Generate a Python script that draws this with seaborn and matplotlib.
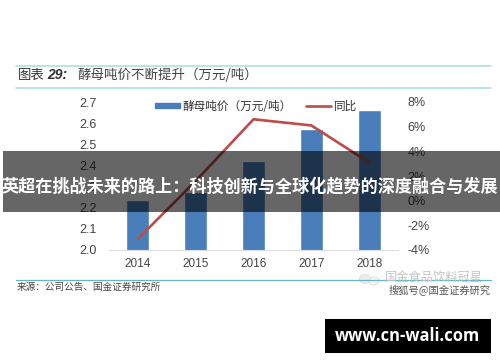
import matplotlib
matplotlib.use("Agg")
import matplotlib.pyplot as plt
from matplotlib.patches import Rectangle, Ellipse
from matplotlib.lines import Line2D
from matplotlib.patches import Patch
import seaborn as sns
import pandas as pd

years = ["2014", "2015", "2016", "2017", "2018"]
price = [2.237, 2.275, 2.42, 2.57, 2.66]
yoy = [-3.1, 1.6, 6.6, 6.1, 3.1]
left_ticks = [2.0, 2.1, 2.2, 2.3, 2.4, 2.5, 2.6, 2.7]
right_ticks = [-4, -2, 0, 2, 4, 6, 8]

W, H = 500, 362
CJK = ["Noto Sans CJK SC", "DejaVu Sans"]

sns.set_theme(style="white")
plt.rcParams["font.family"] = CJK

df = pd.DataFrame({"year": years, "price": price, "yoy": yoy})

fig = plt.figure(figsize=(5, 3.62), dpi=100, facecolor="white")
ax = fig.add_axes([109 / W, 1 - 250 / H, 289 / W, 148 / H])
sns.barplot(data=df, x="year", y="price", color="#4a7ebb", saturation=1, width=0.4, ax=ax)
ax.set_ylim(2.0, 2.7)
ax.set_xlim(-0.5, 4.5)
ax.set_xlabel("")
ax.set_ylabel("")
ax.set_yticks(left_ticks)
ax.set_yticklabels([f"{v:.1f}" for v in left_ticks])
ax.tick_params(axis="y", length=0, labelsize=9, labelcolor="#444444", pad=9)
ax.tick_params(axis="x", length=0, labelsize=8.5, labelcolor="#444444", pad=6)
for label in ax.get_xticklabels() + ax.get_yticklabels():
    label.set_family("Liberation Sans")
sns.despine(ax=ax, left=True, right=True, top=True)
ax.spines["bottom"].set_color("#d9dde3")
ax.spines["bottom"].set_linewidth(0.8)

ax2 = ax.twinx()
sns.lineplot(data=df, x="year", y="yoy", color="#be4b48", linewidth=1.9, ax=ax2, legend=False)
ax2.set_ylim(-4, 8)
ax2.set_xlim(-0.5, 4.5)
ax2.set_ylabel("")
ax2.set_yticks(right_ticks)
ax2.set_yticklabels([f"{v}%" for v in right_ticks])
ax2.tick_params(axis="y", length=0, labelsize=9, labelcolor="#444444", pad=7)
for label in ax2.get_yticklabels():
    label.set_family("Liberation Sans")
sns.despine(ax=ax2, left=True, right=True, top=True)
ax2.spines["bottom"].set_visible(False)

ax2.legend(
    handles=[Patch(color="#4a7ebb"), Line2D([], [], color="#be4b48", linewidth=1.9)],
    labels=["酵母吨价（万元/吨）", "同比"],
    loc="center left", bbox_to_anchor=(0.159, 1 - 4 / 148), ncol=2, frameon=False,
    fontsize=8.4, labelcolor="#333333", handlelength=2.14, handleheight=0.32,
    handletextpad=0.2, columnspacing=1.28, borderpad=0, borderaxespad=0,
)

# page layer: rules, title, source, banner on top of the chart
top = fig.add_axes([0, 0, 1, 1], zorder=10)
top.set_xlim(0, W)
top.set_ylim(H, 0)
top.axis("off")
top.patch.set_alpha(0)

for y in (66, 88):
    top.plot([16, 491], [y, y], color="#a9dbe3", linewidth=1.1)
top.plot([16, 491], [280, 280], color="#62b6c6", linewidth=0.9)

top.text(18, 75, "图表", fontsize=9.6, style="italic", color="#333333", va="center")
top.text(47, 75, "29:", fontsize=10, fontweight="bold", style="italic", color="#333333",
         va="center", family="Liberation Sans")
top.text(77, 75, "酵母吨价不断提升（万元/吨）", fontsize=9.7, style="italic", color="#444444", va="center")
top.text(17, 287, "来源：公司公告、国金证券研究所", fontsize=6.9, color="#444444", va="center")

top.add_patch(Ellipse((365, 279), 11, 9, facecolor="#ececec", edgecolor="#d8d8d8", linewidth=0.5))
top.add_patch(Ellipse((374, 281), 10, 8, facecolor="#f4f4f4", edgecolor="#d8d8d8", linewidth=0.5))
top.text(385, 278, "国金食品饮料冠星", fontsize=8.8, color="#c4c4c4", va="center")
top.text(389, 290, "搜狐号@国金证券研究", fontsize=7.4, color="#555555", va="center")

top.add_patch(Rectangle((3, 151), 497, 61, facecolor="black", alpha=0.6, linewidth=0))
top.text(250, 186, "英超在挑战未来的路上：科技创新与全球化趋势的深度融合与发展",
         fontsize=12.3, fontweight="bold", color="white", ha="center", va="center")

top.add_patch(Rectangle((325, 319), 166, 34, facecolor="black", linewidth=0))
top.text(407, 336, "www.cn-wali.com", fontsize=11.9, fontweight="bold", color="white",
         ha="center", va="center", family="Open Sans")

fig.savefig("out.png", dpi=100)
